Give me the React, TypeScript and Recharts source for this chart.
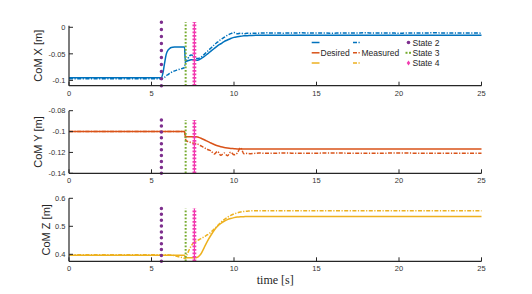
import React from 'react';
import { Legend, Line, LineChart, ReferenceLine, XAxis, YAxis } from 'recharts';

// time samples [s]
const T = [0, 5.6, 5.7, 5.8, 5.9, 6.0, 6.1, 6.2, 6.4, 6.6, 6.8, 7.0, 7.05, 7.1, 7.2, 7.3, 7.4, 7.5, 7.6, 7.7, 7.8, 7.9, 8.0, 8.2, 8.4, 8.6, 8.8, 9.0, 9.2, 9.4, 9.6, 9.8, 10.0, 10.2, 10.4, 10.6, 10.8, 11.0, 11.5, 12, 13, 14, 16, 18, 20, 22, 25];

const X_DESIRED = [-0.095, -0.095, -0.085, -0.066, -0.05, -0.043, -0.04, -0.038, -0.0372, -0.037, -0.037, -0.037, -0.064, -0.064, -0.063, -0.062, -0.061, -0.061, -0.061, -0.062, -0.062, -0.061, -0.059, -0.055, -0.05, -0.045, -0.04, -0.035, -0.031, -0.027, -0.024, -0.021, -0.019, -0.018, -0.017, -0.016, -0.0158, -0.0155, -0.015, -0.015, -0.015, -0.015, -0.015, -0.015, -0.015, -0.015, -0.015];
const X_MEASURED = [-0.097, -0.097, -0.096, -0.094, -0.091, -0.089, -0.087, -0.085, -0.082, -0.08, -0.078, -0.076, -0.066, -0.064, -0.059, -0.054, -0.052, -0.053, -0.056, -0.058, -0.059, -0.058, -0.056, -0.051, -0.045, -0.039, -0.033, -0.028, -0.023, -0.019, -0.015, -0.012, -0.01, -0.012, -0.011, -0.012, -0.011, -0.0115, -0.011, -0.0105, -0.011, -0.0105, -0.011, -0.0105, -0.011, -0.0105, -0.011];

const Y_DESIRED = [-0.1, -0.1, -0.1, -0.1, -0.1, -0.1, -0.1, -0.1, -0.1, -0.1, -0.1, -0.1, -0.1045, -0.1048, -0.105, -0.105, -0.105, -0.105, -0.105, -0.105, -0.1053, -0.1058, -0.1064, -0.1078, -0.1094, -0.111, -0.1124, -0.1136, -0.1146, -0.1153, -0.1158, -0.1162, -0.1164, -0.1166, -0.1167, -0.1168, -0.1168, -0.1168, -0.1168, -0.1168, -0.1168, -0.1168, -0.1168, -0.1168, -0.1168, -0.1168, -0.1168];
const Y_MEASURED = [-0.1, -0.1, -0.1, -0.1, -0.1, -0.1, -0.1, -0.1, -0.1, -0.1, -0.1, -0.1, -0.107, -0.1085, -0.1095, -0.11, -0.1105, -0.111, -0.1112, -0.1115, -0.112, -0.1128, -0.1138, -0.1155, -0.1172, -0.1185, -0.1215, -0.119, -0.1228, -0.1205, -0.1232, -0.1198, -0.1222, -0.1205, -0.1155, -0.1212, -0.1208, -0.1212, -0.1206, -0.1209, -0.1206, -0.1208, -0.1206, -0.1208, -0.1206, -0.1208, -0.1207];

const Z_DESIRED = [0.397, 0.397, 0.397, 0.397, 0.397, 0.397, 0.397, 0.397, 0.397, 0.397, 0.397, 0.397, 0.389, 0.388, 0.388, 0.388, 0.388, 0.388, 0.388, 0.388, 0.39, 0.395, 0.402, 0.425, 0.448, 0.468, 0.486, 0.5, 0.51, 0.518, 0.524, 0.528, 0.531, 0.533, 0.534, 0.5345, 0.535, 0.535, 0.535, 0.535, 0.535, 0.535, 0.535, 0.535, 0.535, 0.535, 0.535];
const Z_MEASURED = [0.398, 0.398, 0.398, 0.398, 0.398, 0.398, 0.3975, 0.397, 0.395, 0.392, 0.389, 0.386, 0.385, 0.392, 0.405, 0.418, 0.429, 0.438, 0.444, 0.447, 0.45, 0.453, 0.456, 0.463, 0.47, 0.479, 0.49, 0.502, 0.514, 0.524, 0.532, 0.539, 0.544, 0.548, 0.551, 0.553, 0.554, 0.555, 0.5555, 0.5555, 0.5555, 0.5555, 0.5555, 0.5555, 0.5555, 0.5555, 0.5555];

// state switch times [s]: State 2, State 3, State 4
const STATE_TIMES = [5.6, 7.07, 7.6];

const TIME_TICKS = [0, 5, 10, 15, 20, 25];
const X_TICKS = [-0.1, -0.05, 0];
const Y_TICKS = [-0.14, -0.12, -0.1, -0.08];
const Z_TICKS = [0.4, 0.5, 0.6];

const AXIS = '#262626';
const TICK_TEXT = '#333333';
const BLUE = '#0072BD';
const ORANGE = '#D95319';
const YELLOW = '#EDB120';
const PURPLE = '#7E2F8E';
const GREEN = '#77AC30';
const MAGENTA = '#F23BB0';
const DASH_DOT = '4 1.5 1.2 1.5';
const SANS = '"Liberation Sans", Arial, Helvetica, sans-serif';

const XTick = (props: any) => {
  const { x, y, payload } = props;
  return (
    <g>
      <line x1={x} x2={x} y1={y} y2={y - 4} stroke={AXIS} strokeWidth={1} />
      <text x={x} y={y + 10} textAnchor="middle" fontSize={7.5} fill={TICK_TEXT} fontFamily={SANS}>
        {payload.value}
      </text>
    </g>
  );
};

const YTick = (props: any) => {
  const { x, y, payload } = props;
  return (
    <g>
      <line x1={x} x2={x + 4} y1={y} y2={y} stroke={AXIS} strokeWidth={1} />
      <text x={x - 3.5} y={y + 2.7} textAnchor="end" fontSize={7.5} fill={TICK_TEXT} fontFamily={SANS}>
        {payload.value}
      </text>
    </g>
  );
};

const yLabel = (text: string, cx: number) => (props: any) => {
  const vb = props.viewBox;
  const cy = vb.y + vb.height / 2;
  return (
    <text
      x={cx}
      y={cy}
      transform={`rotate(-90, ${cx}, ${cy})`}
      textAnchor="middle"
      dominantBaseline="central"
      fontSize={11}
      fill={AXIS}
      fontFamily={SANS}
    >
      {text}
    </text>
  );
};

const timeLabel = (props: any) => {
  const vb = props.viewBox;
  return (
    <text
      x={vb.x + vb.width / 2}
      y={vb.y + 23}
      textAnchor="middle"
      fontSize={12}
      fill={AXIS}
      fontFamily='"Liberation Serif", "Times New Roman", serif'
    >
      time [s]
    </text>
  );
};

const LegendGrid = () => {
  const rows = [6.5, 16.8, 27];
  const colors = [BLUE, ORANGE, YELLOW];
  const txt = { fontSize: 8.5, fill: AXIS, fontFamily: SANS, dominantBaseline: 'central' as const };
  return (
    <svg width={150} height={34} style={{ display: 'block', overflow: 'visible' }}>
      {colors.map((c, i) => (
        <g key={c}>
          <line x1={6.7} x2={14.5} y1={rows[i]} y2={rows[i]} stroke={c} strokeWidth={1.5} />
          <line x1={48} x2={56} y1={rows[i]} y2={rows[i]} stroke={c} strokeWidth={1.5} strokeDasharray={DASH_DOT} />
        </g>
      ))}
      <text x={15.5} y={rows[1]} {...txt}>Desired</text>
      <text x={56.5} y={rows[1]} {...txt}>Measured</text>
      <circle cx={103.5} cy={rows[0]} r={1.8} fill={PURPLE} />
      <rect x={100.5} y={rows[1] - 1} width={2} height={2} fill={GREEN} />
      <rect x={104} y={rows[1] - 1} width={2} height={2} fill={GREEN} />
      <path d={`M103.5 ${rows[2] - 2.4} L105.3 ${rows[2]} L103.5 ${rows[2] + 2.4} L101.7 ${rows[2]} Z`} fill={MAGENTA} />
      <text x={107.5} y={rows[0]} {...txt}>State 2</text>
      <text x={107.5} y={rows[1]} {...txt}>State 3</text>
      <text x={107.5} y={rows[2]} {...txt}>State 4</text>
    </svg>
  );
};

interface PanelProps {
  top: number;
  height: number;
  marginTop: number;
  axisHeight: number;
  desired: number[];
  measured: number[];
  color: string;
  domain: number[];
  ticks: number[];
  label: string;
  labelX: number;
  mark: number[];
  dotGap: number;
  legend?: boolean;
  timeAxisLabel?: boolean;
}

const Panel: React.FC<PanelProps> = (p) => {
  const rows = T.map((t, i) => ({ t, des: p.desired[i], meas: p.measured[i] }));
  const seg = (t: number) => [
    { x: t, y: p.mark[0] },
    { x: t, y: p.mark[1] },
  ];
  return (
    <div style={{ position: 'absolute', left: 0, top: p.top }}>
      <LineChart width={532} height={p.height} data={rows} margin={{ top: p.marginTop, right: 50.5, bottom: 0, left: 0 }}>
        <XAxis
          dataKey="t"
          type="number"
          domain={[0, 25]}
          ticks={TIME_TICKS}
          interval={0}
          height={p.axisHeight}
          tickSize={0}
          tickMargin={0}
          tickLine={false}
          tick={XTick}
          axisLine={{ stroke: AXIS, strokeWidth: 1.2 }}
          label={p.timeAxisLabel ? timeLabel : undefined}
        />
        <YAxis
          type="number"
          domain={p.domain}
          ticks={p.ticks}
          interval={0}
          allowDataOverflow
          width={69}
          tickSize={0}
          tickMargin={0}
          tickLine={false}
          tick={YTick}
          axisLine={{ stroke: AXIS, strokeWidth: 1.2 }}
          label={yLabel(p.label, p.labelX)}
        />
        <Line type="monotone" dataKey="des" stroke={p.color} strokeWidth={1.5} dot={false} isAnimationActive={false} />
        <Line type="monotone" dataKey="meas" stroke={p.color} strokeWidth={1.5} strokeDasharray={DASH_DOT} dot={false} isAnimationActive={false} />
        <ReferenceLine segment={seg(STATE_TIMES[0])} ifOverflow="visible" stroke={PURPLE} strokeWidth={3.5} strokeLinecap="round" strokeDasharray={`0 ${p.dotGap}`} />
        <ReferenceLine segment={seg(STATE_TIMES[1])} ifOverflow="visible" stroke={GREEN} strokeWidth={2} strokeDasharray="1.8 1.7" />
        <ReferenceLine segment={seg(STATE_TIMES[2])} ifOverflow="visible" stroke={MAGENTA} strokeWidth={1.2} />
        <ReferenceLine segment={seg(STATE_TIMES[2])} ifOverflow="visible" stroke={MAGENTA} strokeWidth={3.8} strokeDasharray="1.7 1.8" />
        {p.legend && (
          <Legend
            layout="vertical"
            align="center"
            verticalAlign="middle"
            wrapperStyle={{ left: 305, top: 36, width: 150, height: 34 }}
            content={() => <LegendGrid />}
          />
        )}
      </LineChart>
    </div>
  );
};

export default function App() {
  return (
    <div style={{ position: 'absolute', left: 0, top: 0, width: 532, height: 294, background: '#fff', fontFamily: SANS }}>
      <Panel
        top={0}
        height={100}
        marginTop={25.7}
        axisHeight={14.3}
        desired={X_DESIRED}
        measured={X_MEASURED}
        color={BLUE}
        domain={[-0.11, 0.003]}
        ticks={X_TICKS}
        label="CoM X [m]"
        labelX={38}
        mark={[-0.11, 0.01]}
        dotGap={7.04}
        legend
      />
      <Panel
        top={100}
        height={90}
        marginTop={10.7}
        axisHeight={16.7}
        desired={Y_DESIRED}
        measured={Y_MEASURED}
        color={ORANGE}
        domain={[-0.14, -0.08]}
        ticks={Y_TICKS}
        label="CoM Y [m]"
        labelX={38}
        mark={[-0.14, -0.089]}
        dotGap={5.91}
      />
      <Panel
        top={190}
        height={104}
        marginTop={8.3}
        axisHeight={32.7}
        desired={Z_DESIRED}
        measured={Z_MEASURED}
        color={YELLOW}
        domain={[0.375, 0.6]}
        ticks={Z_TICKS}
        label="CoM Z [m]"
        labelX={46}
        mark={[0.375, 0.564]}
        dotGap={5.88}
        timeAxisLabel
      />
    </div>
  );
}
